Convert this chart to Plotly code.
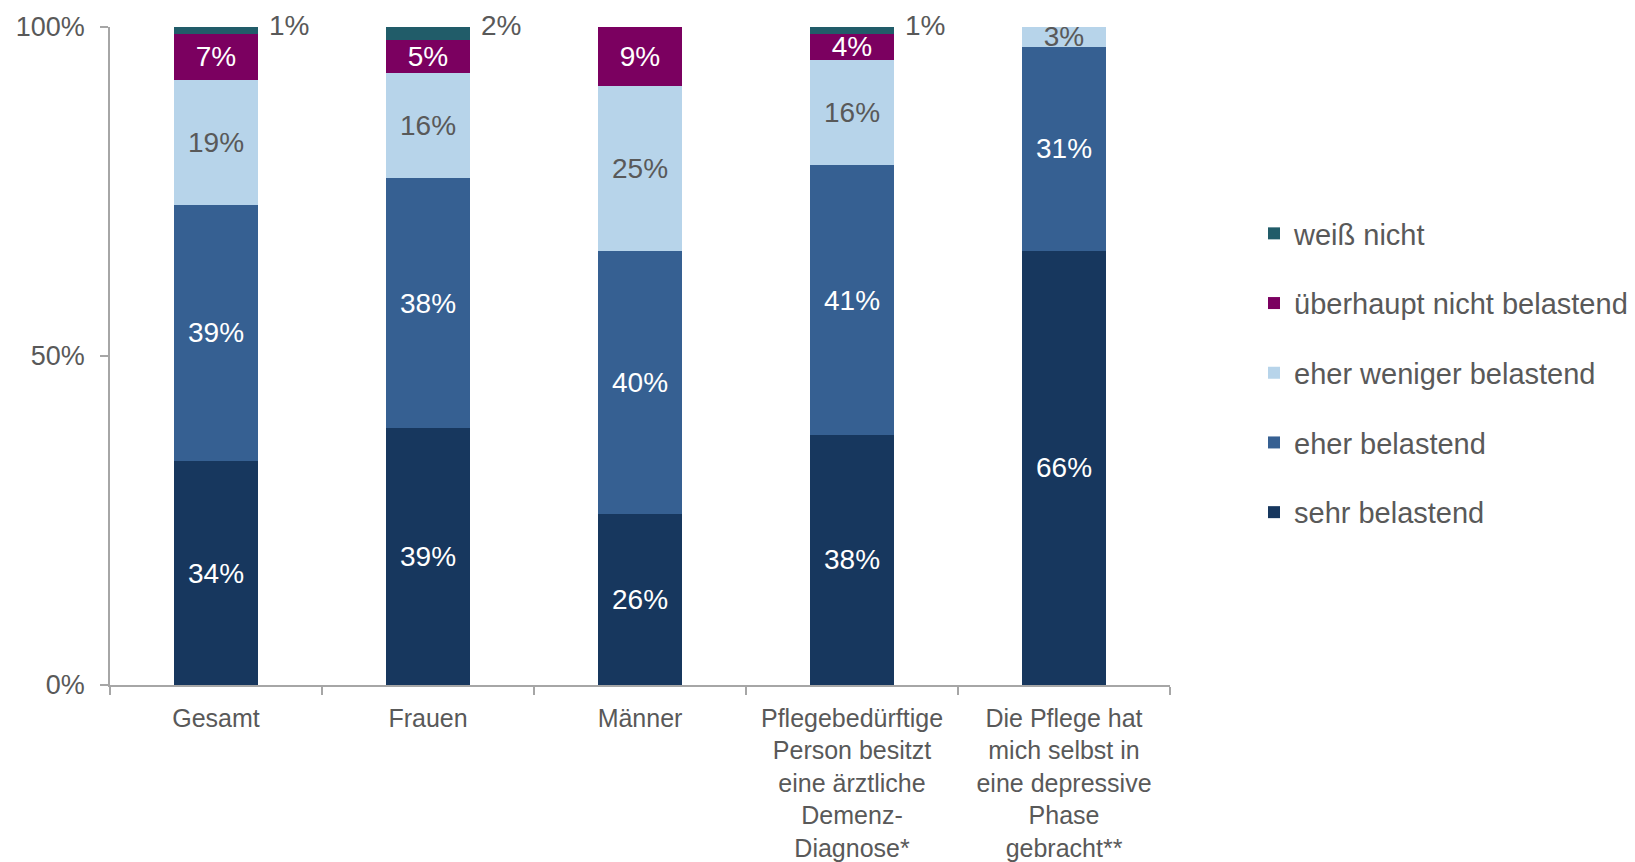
import plotly.graph_objects as go

# Categories and their wrapped axis labels
categories = ["Gesamt", "Frauen", "Männer", "Demenz", "Depressiv"]
tick_labels = [
    "Gesamt",
    "Frauen",
    "Männer",
    "Pflegebedürftige<br>Person besitzt<br>eine ärztliche<br>Demenz-<br>Diagnose*",
    "Die Pflege hat<br>mich selbst in<br>eine depressive<br>Phase<br>gebracht**",
]

# Shares in percent, bottom to top of each stack
sehr_belastend = [34, 39, 26, 38, 66]
eher_belastend = [39, 38, 40, 41, 31]
eher_weniger = [19, 16, 25, 16, 3]
ueberhaupt_nicht = [7, 5, 9, 4, 0]
weiss_nicht = [1, 2, 0, 1, 0]

series = [
    ("sehr belastend", sehr_belastend, "#17375E", "white"),
    ("eher belastend", eher_belastend, "#366092", "white"),
    ("eher weniger belastend", eher_weniger, "#B7D4EA", "#595959"),
    ("überhaupt nicht belastend", ueberhaupt_nicht, "#7B0060", "white"),
    ("weiß nicht", weiss_nicht, "#215C69", "#595959"),
]

FONT = "Arial, Liberation Sans, sans-serif"
GREY = "#595959"
AXIS = "#A6A6A6"
FS = 28

fig = go.Figure()
for i, (name, vals, color, tcolor) in enumerate(series):
    inside = name != "weiß nicht"
    fig.add_trace(go.Bar(
        x=categories,
        y=vals,
        name=name,
        legendgroup=name,
        legendrank=len(series) - i,
        marker=dict(color=color, line=dict(width=0)),
        text=[f"{v}%" if (v and inside) else "" for v in vals],
        textposition="inside",
        insidetextanchor="middle",
        textfont=dict(family=FONT, size=FS, color=tcolor),
        hoverinfo="skip",
    ))

# Small "weiß nicht" shares are labelled beside the top of the stack
totals = [sum(s[1][k] for s in series) for k in range(len(categories))]
for cat, v, top in zip(categories, weiss_nicht, totals):
    if v:
        fig.add_annotation(
            x=cat, y=top, xref="x", yref="y",
            text=f"{v}%", showarrow=False,
            xanchor="left", yanchor="middle",
            xshift=51, yshift=2,
            font=dict(family=FONT, size=FS, color=GREY),
        )

fig.update_layout(
    width=1635,
    height=862,
    margin=dict(l=110, r=465, t=27, b=177),
    barmode="stack",
    bargap=0.6,
    plot_bgcolor="white",
    paper_bgcolor="white",
    font=dict(family=FONT, size=FS, color=GREY),
    uniformtext=dict(mode="show", minsize=FS),
    legend=dict(
        xref="container", yref="container",
        x=(1296 - 42) / 1635, y=1 - 373 / 862,
        xanchor="left", yanchor="middle",
        traceorder="grouped",
        tracegroupgap=29,
        font=dict(family=FONT, size=29, color=GREY),
        bgcolor="rgba(0,0,0,0)",
    ),
    showlegend=True,
)

fig.update_xaxes(
    type="category",
    tickvals=categories,
    ticktext=tick_labels,
    automargin=False,
    showline=True, linecolor=AXIS, linewidth=1.5,
    ticks="outside", tickson="boundaries", ticklen=8, tickcolor=AXIS, tickwidth=1.5,
    ticklabelstandoff=10,
    showgrid=False, zeroline=False,
    tickfont=dict(family=FONT, size=25, color=GREY),
)
fig.update_yaxes(
    range=[0, 100],
    automargin=False,
    tickvals=[0, 50, 100],
    ticktext=["0%", "50%", "100%"],
    showline=True, linecolor=AXIS, linewidth=1.5,
    ticks="outside", ticklen=8, tickcolor=AXIS, tickwidth=1.5,
    showgrid=False, zeroline=False,
    ticklabelstandoff=10,
    tickfont=dict(family=FONT, size=27, color=GREY),
)

fig.write_html("out.html")
